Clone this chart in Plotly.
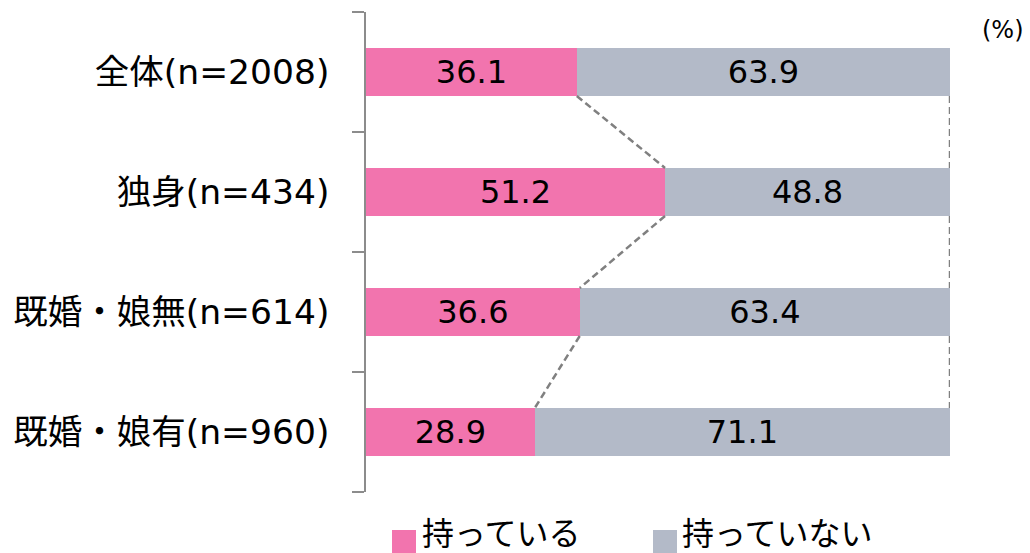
import plotly.graph_objects as go

categories = ["全体(n=2008)", "独身(n=434)", "既婚・娘無(n=614)", "既婚・娘有(n=960)"]
have = [36.1, 51.2, 36.6, 28.9]
have_not = [63.9, 48.8, 63.4, 71.1]
series_names = ["持っている", "持っていない"]
colors = ["#F274AE", "#B3BAC8"]

FONT = "DejaVu Sans, Noto Sans CJK JP, sans-serif"
BW = 0.4
pos = list(range(len(categories)))

fig = go.Figure()
for vals, name, col in [(have, series_names[0], colors[0]), (have_not, series_names[1], colors[1])]:
    fig.add_trace(go.Bar(
        y=pos, x=vals, name=name, orientation="h", width=BW,
        marker=dict(color=col, line=dict(width=0)),
        texttemplate="%{x:.1f}", textposition="inside", insidetextanchor="middle",
        constraintext="none",
        textfont=dict(family=FONT, size=32, color="#000000"),
        showlegend=False, hoverinfo="skip",
    ))

# series (connector) lines, derived from cumulative data
totals = [a + b for a, b in zip(have, have_not)]
for series_end in (have, totals):
    for i in range(len(categories) - 1):
        fig.add_trace(go.Scatter(
            x=[series_end[i], series_end[i + 1]],
            y=[pos[i] + BW / 2, pos[i + 1] - BW / 2],
            mode="lines", line=dict(color="#808080", width=2.5, dash="7px,4px"),
            showlegend=False, hoverinfo="skip",
        ))

W, H = 1030, 553
L, R, T, B = 366, 80, 12, 61
pw, ph = W - L - R, H - T - B

def px(x):
    return (x - L) / pw

def py(y):
    return (H - B - y) / ph

fig.update_layout(
    barmode="stack",
    width=W, height=H,
    margin=dict(l=L, r=R, t=T, b=B, pad=0, autoexpand=False),
    plot_bgcolor="white", paper_bgcolor="white",
    font=dict(family=FONT, size=33, color="#000000"),
    showlegend=False,
    xaxis=dict(range=[0, 100], visible=False, fixedrange=True, automargin=False),
    yaxis=dict(
        range=[len(categories) - 0.5, -0.5], automargin=False, fixedrange=True,
        tickmode="array", tickvals=pos, ticktext=categories,
        ticks="", ticklabelstandoff=28,
        tickfont=dict(family=FONT, size=34.5, color="#000000"),
        showline=True, linecolor="#8C8C8C", linewidth=1.5,
        showgrid=False, zeroline=False,
        minor=dict(tickmode="array", tickvals=[p - 0.5 for p in pos] + [pos[-1] + 0.5],
                   ticks="outside", ticklen=12, tickcolor="#8C8C8C", tickwidth=1.5,
                   showgrid=False),
    ),
)

# legend drawn manually (larger swatches than Plotly's default)
legend_items = [(series_names[0], colors[0], 392, 420), (series_names[1], colors[1], 653, 680)]
for name, col, sx, tx in legend_items:
    fig.add_shape(type="rect", xref="paper", yref="paper",
                  x0=px(sx), x1=px(sx + 24), y0=py(554), y1=py(530),
                  fillcolor=col, line=dict(width=0))
    fig.add_annotation(xref="paper", yref="paper", x=px(tx), y=py(534),
                       xanchor="left", yanchor="middle", text=name, showarrow=False,
                       font=dict(family=FONT, size=32, color="#000000"))

fig.add_annotation(xref="paper", yref="paper", x=px(1003), y=py(30),
                   xanchor="center", yanchor="middle", text="(%)", showarrow=False,
                   font=dict(family=FONT, size=24, color="#000000"))

fig.write_html(
    "out.html",
    config={"displayModeBar": False},
    post_script="document.body.style.margin='0';document.body.style.overflow='hidden';",
)
